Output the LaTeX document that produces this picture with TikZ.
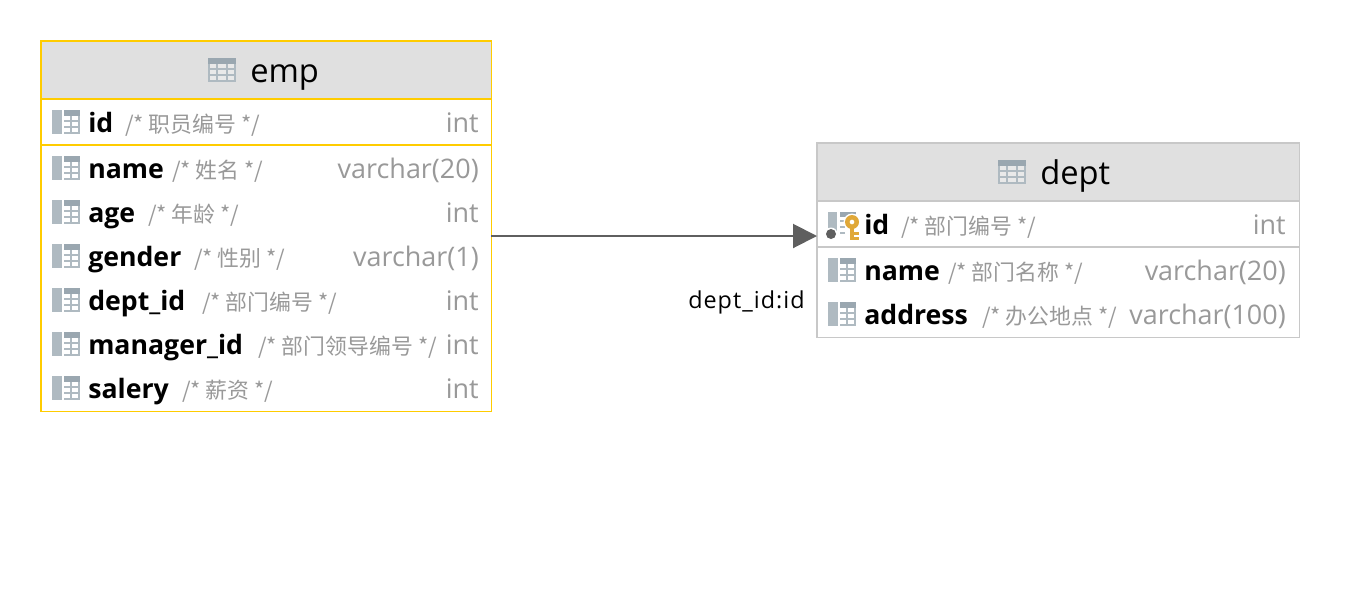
\documentclass[tikz,border=0pt]{standalone}
\usepackage{fontspec}
\setmainfont{Open Sans}
\newfontfamily\cjkf{Noto Sans CJK SC}
\newfontfamily\lblf[LetterSpace=4.5]{Open Sans}
\usetikzlibrary{arrows.meta}
\definecolor{hdr}{HTML}{E0E0E0}
\definecolor{edge}{HTML}{C8C8C8}
\definecolor{sel}{HTML}{FFCC00}
\definecolor{ictop}{HTML}{9AA7B0}
\definecolor{iclight}{HTML}{AFBAC1}
\definecolor{txtgray}{HTML}{999999}
\definecolor{linkc}{HTML}{5F5F5F}
\definecolor{keyc}{HTML}{E0A838}
\tikzset{
  x=0.75pt,y=-0.75pt,
  tablebox/.style={inner sep=0,outer sep=0,anchor=north west,draw=none},
  title/.style={font=\fontsize{24.5}{24}\selectfont,anchor=base west,inner sep=0,text=black},
  colname/.style={font=\fontsize{20}{20}\selectfont\bfseries,anchor=base west,inner sep=0,text=black},
  coment/.style={font=\cjkf\fontsize{16.4}{18}\selectfont,anchor=base west,inner sep=0,text=txtgray},
  coltype/.style={font=\fontsize{20.2}{20}\selectfont,anchor=base east,inner sep=0,text=txtgray},
  linklabel/.style={font=\lblf\fontsize{17.5}{18}\selectfont,anchor=base west,inner sep=0,text=black},
  linkline/.style={draw=linkc,line width=1.5pt,-{Triangle[length=18pt,width=18pt,fill=linkc]}},
}
% #1 x, #2 y top
\newcommand{\colicon}[2]{%
  \fill[iclight] (#1,#2) rectangle +(10,24);
  \fill[iclight] (#1+12,#2+10) rectangle +(16,2);
  \fill[iclight] (#1+12,#2+16) rectangle +(16,2);
  \fill[iclight] (#1+12,#2+22) rectangle +(16,2);
  \fill[iclight] (#1+18,#2) rectangle +(2,24);
  \fill[iclight] (#1+26,#2) rectangle +(2,24);
  \fill[ictop] (#1+12,#2) rectangle +(16,6);
}
\newcommand{\tblicon}[2]{%
  \fill[iclight] (#1,#2) rectangle +(28,24);
  \fill[ictop] (#1,#2) rectangle +(28,6);
  \foreach \yy in {6,12,18}{\foreach \xx/\ww in {2/6,10/8,20/6}{\fill[hdr!70!white] (#1+\xx,#2+\yy) rectangle +(\ww,4);}}
}
\begin{document}
\begin{tikzpicture}
\useasboundingbox (0,0) rectangle (1364,590);
\fill[white] (0,0) rectangle (1364,590);
% emp
\fill[hdr] (41,41) rectangle (491,99);
\node[tablebox,minimum width=337.5pt,minimum height=277.5pt] (emp) at (41,41) {};
\draw[sel,line width=0.75pt] (491.5,41) -- (491.5,411.5) -- (41,411.5);
\draw[sel,line width=1.5pt] (491.5,41) -- (41,41) -- (41,412);
\draw[sel,line width=1.5pt] (41,99) -- (491.5,99);
\draw[sel,line width=1.5pt] (41,145) -- (491.5,145);
\tblicon{208}{58}
\node[title] (empt) at (250,82) {emp};
\foreach \yy/\nm/\cx/\cm/\ty in {
  132/id/125/{/* 职员编号 */}/int,
  178/name/172/{/* 姓名 */}/varchar(20),
  222/age/148/{/* 年龄 */}/int,
  266/gender/194/{/* 性别 */}/varchar(1),
  310/dept\_id/202/{/* 部门编号 */}/int,
  354/manager\_id/258/{/* 部门领导编号 */}/int,
  398/salery/182/{/* 薪资 */}/int}{
  \colicon{52}{\yy-22}
  \node[colname] at (88,\yy) {\nm};
  \node[coment] at (\cx,\yy) {\cm};
  \node[coltype] at (479,\yy) {\ty};
}
% dept
\fill[hdr] (817,143) rectangle (1299,201);
\node[tablebox,minimum width=361.5pt,minimum height=145.5pt] (dept) at (817,143) {};
\draw[edge,line width=0.75pt] (1299.5,143) -- (1299.5,337.5) -- (817,337.5);
\draw[edge,line width=1.5pt] (1299.5,143) -- (817,143) -- (817,338);
\draw[edge,line width=1.5pt] (817,201) -- (1299,201);
\draw[edge,line width=1.5pt] (817,247) -- (1299,247);
\tblicon{998}{160}
\node[title] (deptt) at (1040,184) {dept};
\foreach \yy/\nm/\cx/\cm/\ty in {
  234/id/901/{/* 部门编号 */}/int,
  280/name/948/{/* 部门名称 */}/varchar(20),
  324/address/982/{/* 办公地点 */}/varchar(100)}{
  \node[colname] at (864,\yy) {\nm};
  \node[coment] at (\cx,\yy) {\cm};
  \node[coltype] at (1286,\yy) {\ty};
}
\colicon{828}{258}
\colicon{828}{302}
% key column icon
\fill[iclight] (828,212) rectangle (837,231);
\fill[ictop] (840,212) rectangle (856,217);
\foreach \yy in {220,226,232}{\fill[iclight] (840,\yy) rectangle +(5,2);}
\fill[white] (831,234) circle[radius=6.5];
\fill[linkc] (831,234) circle[radius=5];
\fill[white] (852,222) circle[radius=8.5];
\fill[keyc,even odd rule] (852,222) circle[radius=7] (852,222) circle[radius=2.5];
\fill[keyc] (850,228) rectangle (854,240);
\fill[keyc] (854,232) rectangle (859,234.5);
\fill[keyc] (854,237) rectangle (859,239.5);
% link
\coordinate (src) at (emp.east |- 0,236);
\coordinate (dst) at (dept.west |- 0,236);
\draw[linkline] (src) -- (dst);
\node[linklabel] (lbl) at (688,308) {dept\_id:id};
\end{tikzpicture}
\end{document}
